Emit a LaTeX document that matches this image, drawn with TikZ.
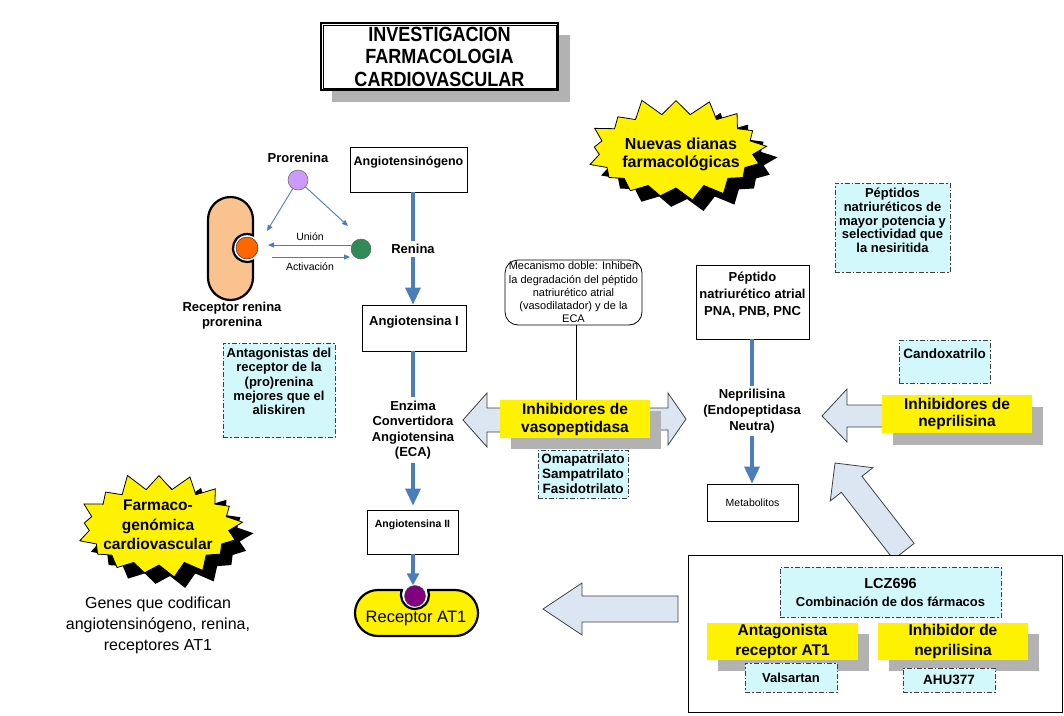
\documentclass[tikz,border=0pt]{standalone}
\usepackage{fontspec}
\setmainfont{Liberation Sans}
\newfontfamily\narrowsans[FakeStretch=0.88]{Liberation Sans}
\usetikzlibrary{arrows.meta,shapes.symbols,calc}
\definecolor{ablue}{HTML}{4A7EBB}
\definecolor{hfill}{HTML}{DCE6F2}
\definecolor{hline}{HTML}{404040}
\definecolor{shgray}{HTML}{B2B2B2}
\definecolor{cyanbox}{HTML}{D2F8FC}
\definecolor{dgray}{HTML}{3F3F3F}
\definecolor{peach}{HTML}{FAC28F}
\definecolor{orng}{HTML}{FF6600}
\definecolor{grn}{HTML}{2E8B57}
\definecolor{lilac}{HTML}{CC99FF}
\definecolor{dpurple}{HTML}{800080}
\newcommand{\fsz}[2]{\fontsize{#1pt}{#2pt}\selectfont}
\begin{document}
\begin{tikzpicture}[x=1pt,y=-1pt,
  txt/.style={inner sep=0pt, align=center},
  box/.style={draw=black, line width=0.8pt, fill=white, inner sep=0pt, align=center},
  ybox/.style={fill=yellow, inner sep=0pt, align=center},
  dbox/.style={draw=dgray, line width=1pt, dash pattern=on 5pt off 2pt on 1.5pt off 2pt, fill=cyanbox, inner sep=0pt, align=center},
  harrow/.style={fill=hfill, draw=hline, line width=0.8pt, line join=miter},
  thickarr/.style={draw=ablue, line width=3.2pt, -{Triangle[length=17pt,width=15pt]}},
  smallarr/.style={draw=ablue, line width=3.2pt, -{Triangle[length=12pt,width=12pt]}},
  thinarr/.style={draw=ablue, line width=0.9pt, -{Triangle[length=6pt,width=5pt]}},
  burst/.style={starburst, starburst points=17, starburst point height=18pt, random starburst=11, inner sep=0pt, line width=0.8pt},
  lbl/.style={fill=white, inner sep=3pt, align=center}
]
\fill[white] (0,0) rectangle (1064,715);
\useasboundingbox (0,0) rectangle (1064,715);

% ---------- block arrows ----------
\draw[harrow] (463,420) -- (487,393) -- (487,408) -- (505,408) -- (505,432) -- (487,432) -- (487,447) -- cycle;
\draw[harrow] (686,419) -- (668,393) -- (668,408) -- (645,408) -- (645,430) -- (668,430) -- (668,445) -- cycle;
\draw[harrow] (822,416) -- (847,389) -- (847,405) -- (885,405) -- (885,427) -- (847,427) -- (847,442) -- cycle;
\draw[harrow] (543,609) -- (582,583) -- (582,596) -- (678,596) -- (678,622) -- (582,622) -- (582,635) -- cycle;
\draw[harrow] (835,463) -- (872.9,467.7) -- (861.9,476.3) -- (914.1,543.4) -- (893.5,559.4) -- (841.3,492.3) -- (830.3,500.9) -- cycle;

% ---------- title ----------
\fill[shgray] (332,35) rectangle (570,102);
\node[box, line width=1.3pt, minimum width=237pt, minimum height=67pt, font={\narrowsans\fsz{20.5}{22.5}\bfseries}] (title) at (439.5,56.5) {INVESTIGACION\\FARMACOLOGIA\\CARDIOVASCULAR};
\draw[line width=0.5pt] ($(title.north west)+(2.5,2.5)$) rectangle ($(title.south east)+(-2.5,-2.5)$);

% ---------- starbursts ----------
\node[burst, fill=black, minimum width=190pt, minimum height=110pt] at (687,162) {};
\node[burst, fill=yellow, draw=black, minimum width=190pt, minimum height=110pt] (nuevas) at (676,151) {};
\node[txt, font={\fsz{16}{18}\bfseries}] (nuevast) at (681,154) {Nuevas dianas\\farmacológicas};

\node[burst, fill=black, minimum width=176pt, minimum height=112pt] at (170,538) {};
\node[burst, fill=yellow, draw=black, minimum width=176pt, minimum height=112pt] (farma) at (159,527) {};
\node[txt, font={\fsz{15.5}{19.5}\bfseries}] (farmat) at (158,525) {Farmaco-\\genómica\\cardiovascular};
\node[txt, font={\fsz{16}{21}}] (genes) at (158,625) {Genes que codifican\\angiotensinógeno, renina,\\receptores AT1};

% ---------- prorenina / receptor ----------
\path[fill=peach, draw=black, line width=2.2pt]
  (253,235.35) -- (253,219.5) arc[start angle=0, end angle=-180, radius=22.5]
  -- (208,277.5) arc[start angle=180, end angle=0, radius=22.5]
  -- (253,260.65) arc[start angle=64.6, end angle=295.4, radius=14] -- cycle;
\node[circle, fill=orng, draw=black!80, line width=0.5pt, minimum size=22pt, inner sep=0pt] (orange) at (247,248) {};
\node[txt, font={\fsz{13}{15}\bfseries}] (prorl) at (298,158) {Prorenina};
\node[circle, fill=lilac, draw=black!60, line width=0.5pt, minimum size=20pt, inner sep=0pt] (pur) at (298,180) {};
\node[circle, fill=grn, draw=black!60, line width=0.5pt, minimum size=20pt, inner sep=0pt] (green) at (361,249) {};
\node[txt, font={\fsz{13}{15}\bfseries}] (recl) at (232,316) {Receptor renina\\prorenina};
\coordinate (pl) at (267,231);
\coordinate (pr) at (348,226);
\coordinate (uend) at (268,245);
\coordinate (astart) at (272,257);
\coordinate (aend) at (350,257);
\draw[thinarr] (pur) -- (pl);
\draw[thinarr] (pur) -- (pr);
\draw[thinarr] (green.west |- uend) -- (uend);
\draw[thinarr] (astart) -- (aend);
\node[txt, font={\fsz{10.5}{12}}] (union) at (310,237) {Unión};
\node[txt, font={\fsz{10.5}{12}}] (activ) at (310,267) {Activación};

% ---------- renin-angiotensin column ----------
\node[box, minimum width=117pt, minimum height=45pt] (angog) at (408.5,169.5) {};
\node[txt, font={\fsz{12.5}{14}\bfseries}] (angogt) at (408.5,162) {Angiotensinógeno};
\node[box, minimum width=104pt, minimum height=46pt] (ang1) at (414,328) {};
\node[txt, font={\fsz{13}{15}\bfseries}] (ang1t) at (414,322) {Angiotensina I};
\node[box, minimum width=91pt, minimum height=44pt] (ang2) at (412.5,532) {};
\node[txt, font={\fsz{10.5}{12}\bfseries}] (ang2t) at (412.5,525) {Angiotensina II};
\node[lbl, font={\fsz{13}{15}\bfseries}] (renina) at (413,249) {Renina};
\node[lbl, font={\fsz{13}{15.5}\bfseries}] (eca) at (413,430) {Enzima\\Convertidora\\Angiotensina\\(ECA)};
\draw[draw=ablue, line width=3.2pt] (angog.south -| renina) -- (renina.north);
\draw[thickarr] (renina.south) -- (ang1.north -| renina);
\draw[draw=ablue, line width=3.2pt] (ang1.south -| eca) -- (eca.north);
\draw[thickarr, shorten >=4pt] (eca.south) -- (ang2.north -| eca);

% receptor AT1
\path[fill=yellow, draw=black, line width=2.2pt]
  (428.1,590) -- (455,590) arc[start angle=-90, end angle=90, radius=23]
  -- (378,636) arc[start angle=90, end angle=270, radius=23]
  -- (401.9,590) arc[start angle=200.9, end angle=-20.9, radius=14] -- cycle;
\node[circle, fill=dpurple, draw=black!70, line width=0.5pt, minimum size=21pt, inner sep=0pt] (at1c) at (415,596) {};
\node[txt, font={\fsz{16.5}{18}}] (at1t) at (416,619) {Receptor AT1};
\draw[smallarr] (ang2.south -| eca) -- (at1c.north -| eca);

\node[dbox, minimum width=112pt, minimum height=94pt] (antag) at (279,390) {};
\node[txt, font={\fsz{13}{14.3}\bfseries}] (antagt) at (279,381.5) {Antagonistas del\\receptor de la\\(pro)renina\\mejores que el\\aliskiren};

% ---------- vasopeptidase ----------
\node[box, rounded corners=13pt, minimum width=137pt, minimum height=65pt, font={\fsz{11}{13.25}}] (mech) at (573.5,292.5) {Mecanismo doble: Inhiben\\la degradación del péptido\\natriurético atrial\\(vasodilatador) y de la\\ECA};
\fill[shgray] (511,411) rectangle (661,449);
\node[ybox, minimum width=150pt, minimum height=38pt, font={\fsz{15.5}{18}\bfseries}] (vaso) at (575,419) {Inhibidores de\\vasopeptidasa};
\draw[line width=0.8pt] (mech.south -| 576,0) -- (vaso.north -| 576,0);
\node[dbox, minimum width=90pt, minimum height=48pt, font={\fsz{13.5}{15}\bfseries}] (oma) at (583,474) {Omapatrilato\\Sampatrilato\\Fasidotrilato};

% ---------- natriuretic peptides ----------
\node[box, minimum width=113pt, minimum height=74pt] (pept) at (752.5,302) {};
\node[txt, font={\fsz{13}{17}\bfseries}] (peptt) at (752.5,295) {Péptido\\natriurético atrial\\PNA, PNB, PNC};
\node[lbl, font={\fsz{13}{16}\bfseries}] (nepr) at (752,411) {Neprilisina\\(Endopeptidasa\\Neutra)};
\node[box, minimum width=91pt, minimum height=37pt, font={\fsz{10.5}{12}}] (metab) at (752.5,502.5) {Metabolitos};
\draw[draw=ablue, line width=3.2pt] (pept.south -| nepr) -- (nepr.north);
\draw[thickarr] (nepr.south) -- (metab.north -| nepr);

\node[dbox, minimum width=115pt, minimum height=89pt] (pnat) at (892.5,227.5) {};
\node[txt, font={\fsz{13}{13.75}\bfseries}] (pnatt) at (892.5,220.5) {Péptidos\\natriuréticos de\\mayor potencia y\\selectividad que\\la nesiritida};
\node[dbox, minimum width=91pt, minimum height=43pt] (cand) at (944.5,361.5) {};
\node[txt, font={\fsz{13.5}{15}\bfseries}] (candt) at (944.5,354) {Candoxatrilo};
\fill[shgray] (893,407) rectangle (1043,445);
\node[ybox, minimum width=150pt, minimum height=38pt, font={\fsz{15.5}{17}\bfseries}] (inep) at (957,414) {Inhibidores de\\neprilisina};

% ---------- LCZ696 ----------
\node[box, minimum width=374pt, minimum height=157pt] (big) at (875,633.5) {};
\node[dbox, minimum width=221pt, minimum height=50pt] (lcz) at (890.5,592) {};
\node[txt, font={\fsz{14.5}{16}\bfseries}] (lczt) at (890.5,583) {LCZ696};
\node[txt, font={\fsz{13}{15}\bfseries}] (lczs) at (890.5,602) {Combinación de dos fármacos};
\fill[shgray] (718,634) rectangle (869,671);
\fill[shgray] (889,634) rectangle (1039,671);
\node[ybox, minimum width=151pt, minimum height=37pt, font={\fsz{15.5}{20}\bfseries}] (aat1) at (782.5,641.5) {Antagonista\\receptor AT1};
\node[ybox, minimum width=150pt, minimum height=37pt, font={\fsz{15.5}{20}\bfseries}] (inhn) at (953,641.5) {Inhibidor de\\neprilisina};
\node[dbox, minimum width=92pt, minimum height=29pt, font={\fsz{13}{15}\bfseries}] (vals) at (791,677.5) {Valsartan};
\node[dbox, minimum width=92pt, minimum height=24pt, font={\fsz{13.5}{15}\bfseries}] (ahu) at (949,680) {AHU377};
\end{tikzpicture}
\end{document}
